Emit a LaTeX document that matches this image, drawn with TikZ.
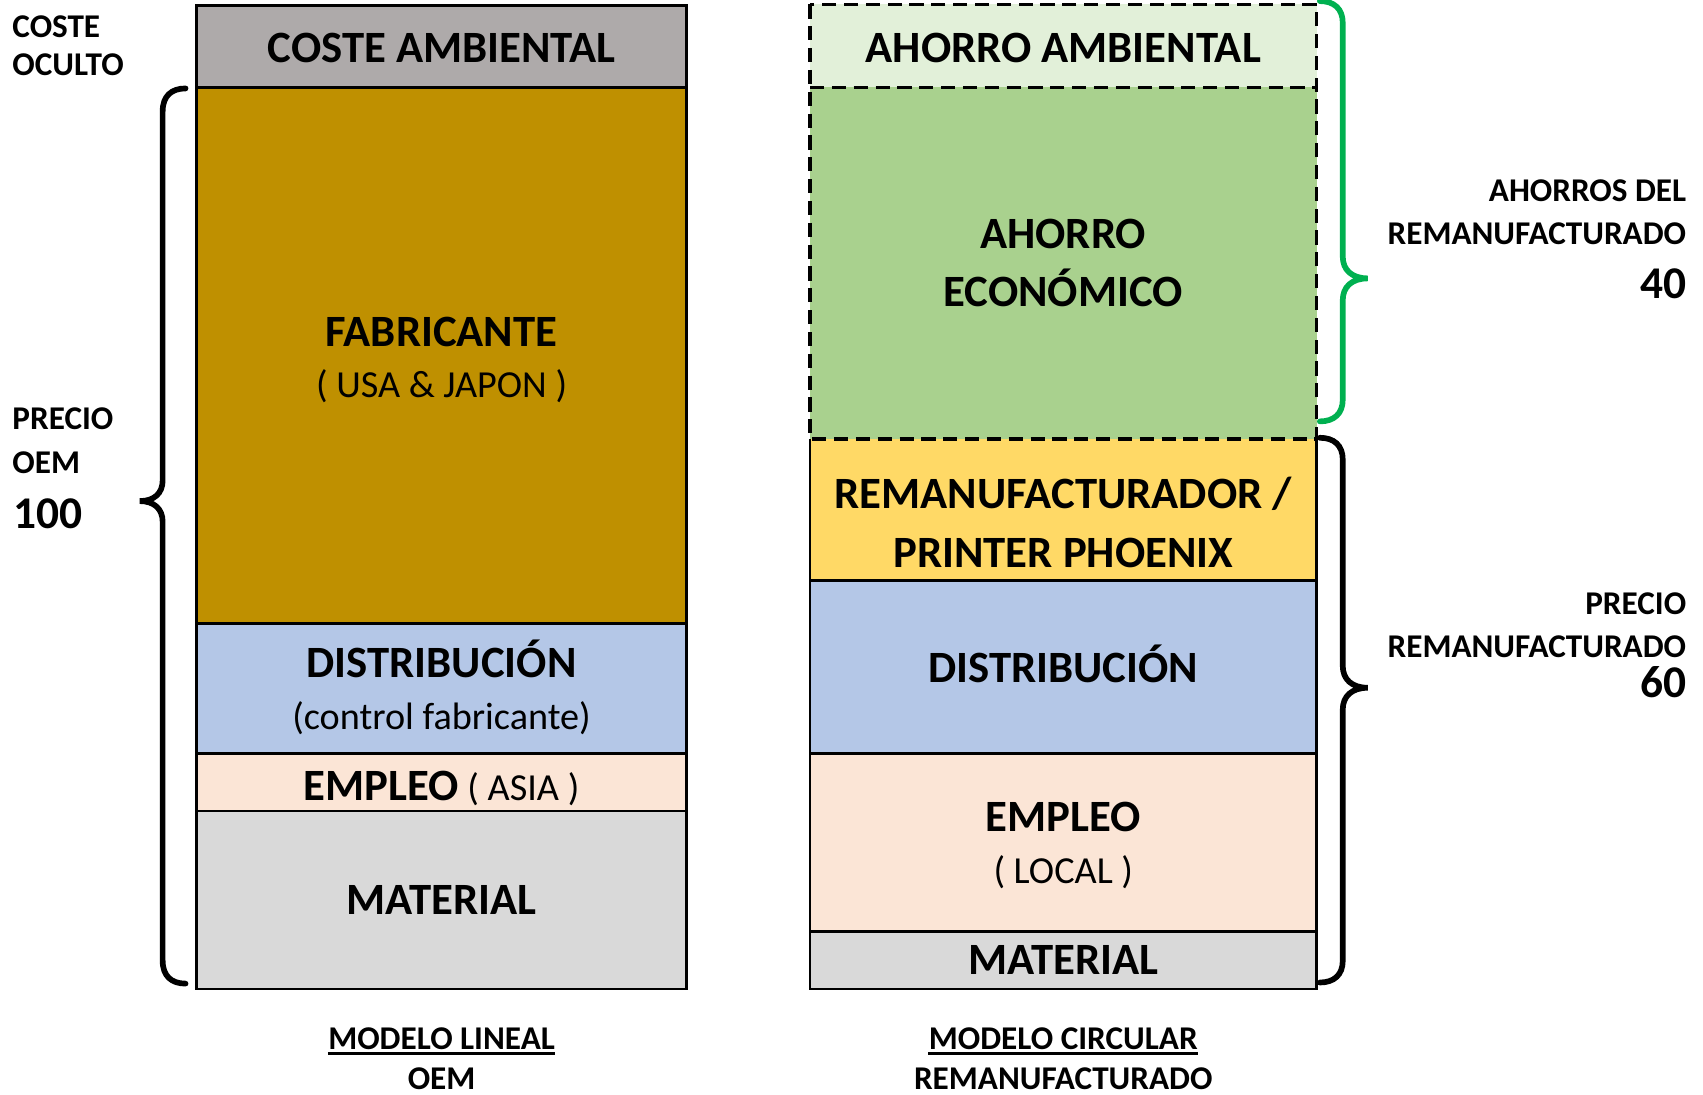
\documentclass[tikz,border=0pt]{standalone}
\usepackage{fontspec}
\setmainfont{Carlito}
\definecolor{cgray}{HTML}{AEAAAA}
\definecolor{cgold}{HTML}{BF9000}
\definecolor{cblue}{HTML}{B4C7E7}
\definecolor{cpeach}{HTML}{FBE5D6}
\definecolor{cmat}{HTML}{D9D9D9}
\definecolor{clgreen}{HTML}{E2F0D9}
\definecolor{cgreen}{HTML}{A9D18E}
\definecolor{cyellow}{HTML}{FFD966}
\definecolor{cbrace}{HTML}{00B050}
\begin{document}
\begin{tikzpicture}[x=0.5pt,y=-0.5pt,
  big/.style={font=\fontsize{20.5}{24}\selectfont\bfseries, inner sep=0pt, anchor=base},
  sub/.style={font=\fontsize{17.5}{20}\selectfont, inner sep=0pt, anchor=base},
  sidel/.style={font=\fontsize{15.2}{18}\selectfont\bfseries, inner sep=0pt, anchor=base west},
  sider/.style={font=\fontsize{15.2}{18}\selectfont\bfseries, inner sep=0pt, anchor=base east},
  numl/.style={font=\fontsize{20.8}{24}\selectfont\bfseries, inner sep=0pt, anchor=base west},
  numr/.style={font=\fontsize{20.8}{24}\selectfont\bfseries, inner sep=0pt, anchor=base east},
  capt/.style={font=\fontsize{15.2}{18}\selectfont\bfseries, inner sep=0pt, anchor=base},
  boxline/.style={line width=1.2pt, draw=black},
  dashline/.style={line width=1.6pt, draw=black, dash pattern=on 6.5pt off 3.5pt},
  bracestroke/.style={line width=2.6pt, line cap=round}
]
\useasboundingbox (0,0) rectangle (1560,1003);

% ---------- left column ----------
\filldraw[boxline, fill=cgray]  (180,5)   rectangle (629,80);
\filldraw[boxline, fill=cgold]  (180,80)  rectangle (629,571);
\filldraw[boxline, fill=cblue]  (180,571) rectangle (629,690);
\filldraw[boxline, fill=cpeach] (180,690) rectangle (629,743);
\filldraw[boxline, fill=cmat]   (180,743) rectangle (629,906);

\node[big] (ca) at (404.5,57) {COSTE AMBIENTAL};
\node[big] (fab) at (404.5,317) {FABRICANTE};
\node[sub] (usa) at (404.5,364) {( USA \& JAPON )};
\node[big] (dis1) at (404.5,621) {DISTRIBUCIÓN};
\node[sub] (ctl) at (404.5,668) {(control fabricante)};
\node[big] (emp1) at (404.5,733) {EMPLEO{\fontsize{17.5}{20}\selectfont\mdseries\ ( ASIA )}};
\node[big] (mat1) at (404.5,838) {MATERIAL};

% ---------- right column ----------
\fill[clgreen] (742,4)   rectangle (1206,80);
\fill[cgreen]  (742,80)  rectangle (1206,402);
\fill[cyellow] (742,402) rectangle (1206,532);
\fill[cblue]   (742,532) rectangle (1206,690);
\fill[cpeach]  (742,690) rectangle (1206,853);
\fill[cmat]    (742,853) rectangle (1206,906);
\draw[boxline] (742,402) -- (742,906) -- (1206,906) -- (1206,402);
\draw[boxline] (742,532) -- (1206,532);
\draw[boxline] (742,690) -- (1206,690);
\draw[boxline] (742,853) -- (1206,853);
\draw[dashline] (742,4) rectangle (1206,402);
\draw[dashline] (742,80) -- (1206,80);

\node[big] (aa) at (974,57) {AHORRO AMBIENTAL};
\node[big] (ae1) at (974,228) {AHORRO};
\node[big] (ae2) at (974,281) {ECONÓMICO};
\node[big] (rp1) at (974,466) {REMANUFACTURADOR /};
\node[big] (rp2) at (974,520) {PRINTER PHOENIX};
\node[big] (dis2) at (974,625) {DISTRIBUCIÓN};
\node[big] (emp2) at (974,762) {EMPLEO};
\node[sub] (loc) at (974,809) {( LOCAL )};
\node[big] (mat2) at (974,893) {MATERIAL};

% ---------- side labels ----------
\node[sidel] (co1) at (11,34) {COSTE};
\node[sidel] (co2) at (11,69) {OCULTO};
\node[sidel] (po1) at (11,393) {PRECIO};
\node[sidel] (po2) at (11,434) {OEM};
\node[numl]  (po3) at (12,484) {100};

\node[sider] (ar1) at (1545,185) {AHORROS DEL};
\node[sider] (ar2) at (1545,224) {REMANUFACTURADO};
\node[numr]  (ar3) at (1545,273) {40};

\node[sider] (pr1) at (1545,563) {PRECIO};
\node[sider] (pr2) at (1545,602) {REMANUFACTURADO};
\node[numr]  (pr3) at (1545,639) {60};

% ---------- captions ----------
\node[capt] (ml) at (404.5,961) {MODELO LINEAL};
\node[capt] (ml2) at (404.5,998) {OEM};
\node[capt] (mc) at (974,961) {MODELO CIRCULAR};
\node[capt] (mc2) at (974,998) {REMANUFACTURADO};
\draw[line width=1.1pt] ([yshift=-2pt]ml.base west) -- ([yshift=-2pt]ml.base east);
\draw[line width=1.1pt] ([yshift=-2pt]mc.base west) -- ([yshift=-2pt]mc.base east);

% ---------- braces ----------
\coordinate (lbt) at (170,81);
\coordinate (lbb) at (170,901);
\draw[bracestroke] (lbt) .. controls (157,81) and (149,88) .. (149,102)
  -- (149,440) .. controls (149,452) and (141,459) .. (128,459)
  .. controls (141,459) and (149,466) .. (149,478)
  -- (149,880) .. controls (149,894) and (157,901) .. (lbb);

\coordinate (gbt) at (1209,1);
\coordinate (gbb) at (1209,386);
\draw[bracestroke, draw=cbrace] (gbt) .. controls (1222,1) and (1230,8) .. (1230,21)
  -- (1230,235) .. controls (1230,247) and (1238,255) .. (1253,255)
  .. controls (1238,255) and (1230,263) .. (1230,275)
  -- (1230,366) .. controls (1230,379) and (1222,386) .. (gbb);

\coordinate (rbt) at (1209,401);
\coordinate (rbb) at (1209,900);
\draw[bracestroke] (rbt) .. controls (1222,401) and (1230,408) .. (1230,421)
  -- (1230,610) .. controls (1230,622) and (1238,630) .. (1253,630)
  .. controls (1238,630) and (1230,638) .. (1230,650)
  -- (1230,880) .. controls (1230,893) and (1222,900) .. (rbb);
\end{tikzpicture}
\end{document}
